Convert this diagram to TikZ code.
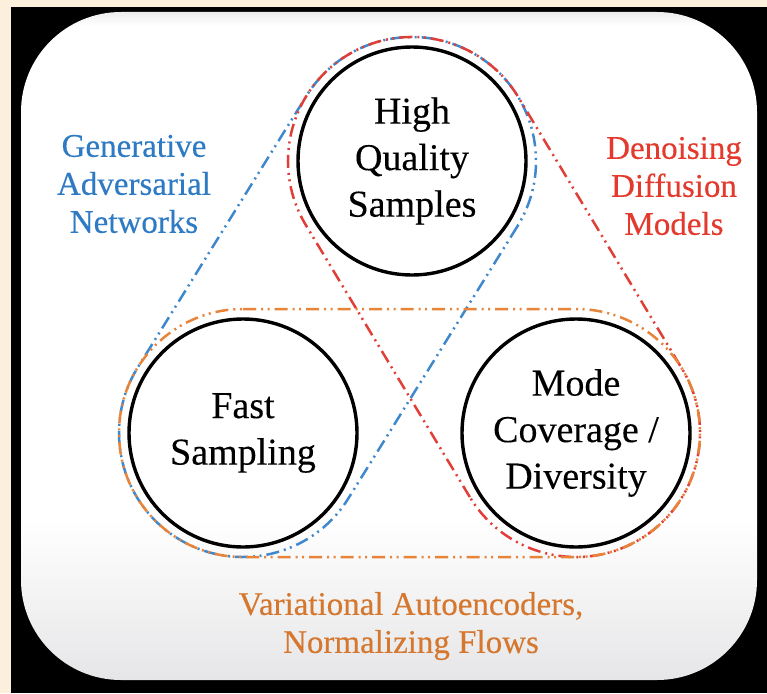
\documentclass[tikz,border=0pt]{standalone}
\usepackage{fontspec}
\setmainfont{Liberation Serif}
\newfontfamily\labfont[FakeBold=0.35]{Liberation Serif}
\newfontfamily\circfont[FakeBold=0.2]{Liberation Serif}
\usetikzlibrary{calc}
\definecolor{beigebg}{HTML}{FCEFDB}
\definecolor{panelgrey}{HTML}{E6E6E8}
\definecolor{paneltop}{HTML}{EDEDEF}
\definecolor{gancol}{HTML}{2E7BC4}
\definecolor{ddcol}{HTML}{E43A2E}
\definecolor{vaecol}{HTML}{D5772F}
\definecolor{ganline}{HTML}{3F88CC}
\definecolor{ddline}{HTML}{E03F38}
\definecolor{vaeline}{HTML}{E8843A}
\pgfdeclareverticalshading{panelshade}{100bp}{color(0bp)=(panelgrey); color(25bp)=(panelgrey); color(37bp)=(white); color(74bp)=(white); color(75bp)=(paneltop); color(100bp)=(paneltop)}
\def\caprad{124pt}
\newcommand\drawcapsule[3]{%
  \draw[#1] let \p1=($(#3.center)-(#2.center)$), \n1={atan2(\y1,\x1)} in
    ($(#2.center)+(\n1+90:\caprad)$) -- ($(#3.center)+(\n1+90:\caprad)$)
    arc[start angle=\n1+90, delta angle=-180, radius=\caprad]
    -- ($(#2.center)+(\n1-90:\caprad)$)
    arc[start angle=\n1-90, delta angle=-180, radius=\caprad] -- cycle;}
\tikzset{
  circ/.style={circle, draw=black, line width=3.4pt, minimum size=228pt, inner sep=0pt,
    align=center, font=\circfont\fontsize{38}{46.5}\selectfont},
  lab/.style={align=center, inner sep=0pt, font=\labfont\fontsize{33}{38}\selectfont},
  dashdotdot/.style={line width=2.5pt, dash pattern=on 13pt off 5pt on 2pt off 4.5pt on 2pt off 5pt},
}
\begin{document}
\begin{tikzpicture}[x=1pt,y=1pt]
\useasboundingbox (0,0) rectangle (767,-693);
\fill[beigebg] (0,0) rectangle (767,-693);
\fill[black] (11,-7) rectangle (767,-693);
\shade[shading=panelshade, rounded corners=100pt] (21,-12) rectangle (757,-680);

\node[circ] (T) at (412,-161) {High\\Quality\\Samples};
\node[circ] (F) at (243,-433) {Fast\\Sampling};
\node[circ] (M) at (576,-433) {Mode\\Coverage /\\Diversity};

\drawcapsule{dashdotdot, ganline}{T}{F}
\drawcapsule{dashdotdot, ddline}{M}{T}
\drawcapsule{dashdotdot, vaeline}{F}{M}

\node[lab, text=gancol] (gan) at (134,-184) {Generative\\Adversarial\\Networks};
\node[lab, text=ddcol] (ddm) at (674,-186) {Denoising\\Diffusion\\Models};
\node[lab, text=vaecol] (vae) at (411,-626) {Variational Autoencoders,\\Normalizing Flows};
\end{tikzpicture}
\end{document}
